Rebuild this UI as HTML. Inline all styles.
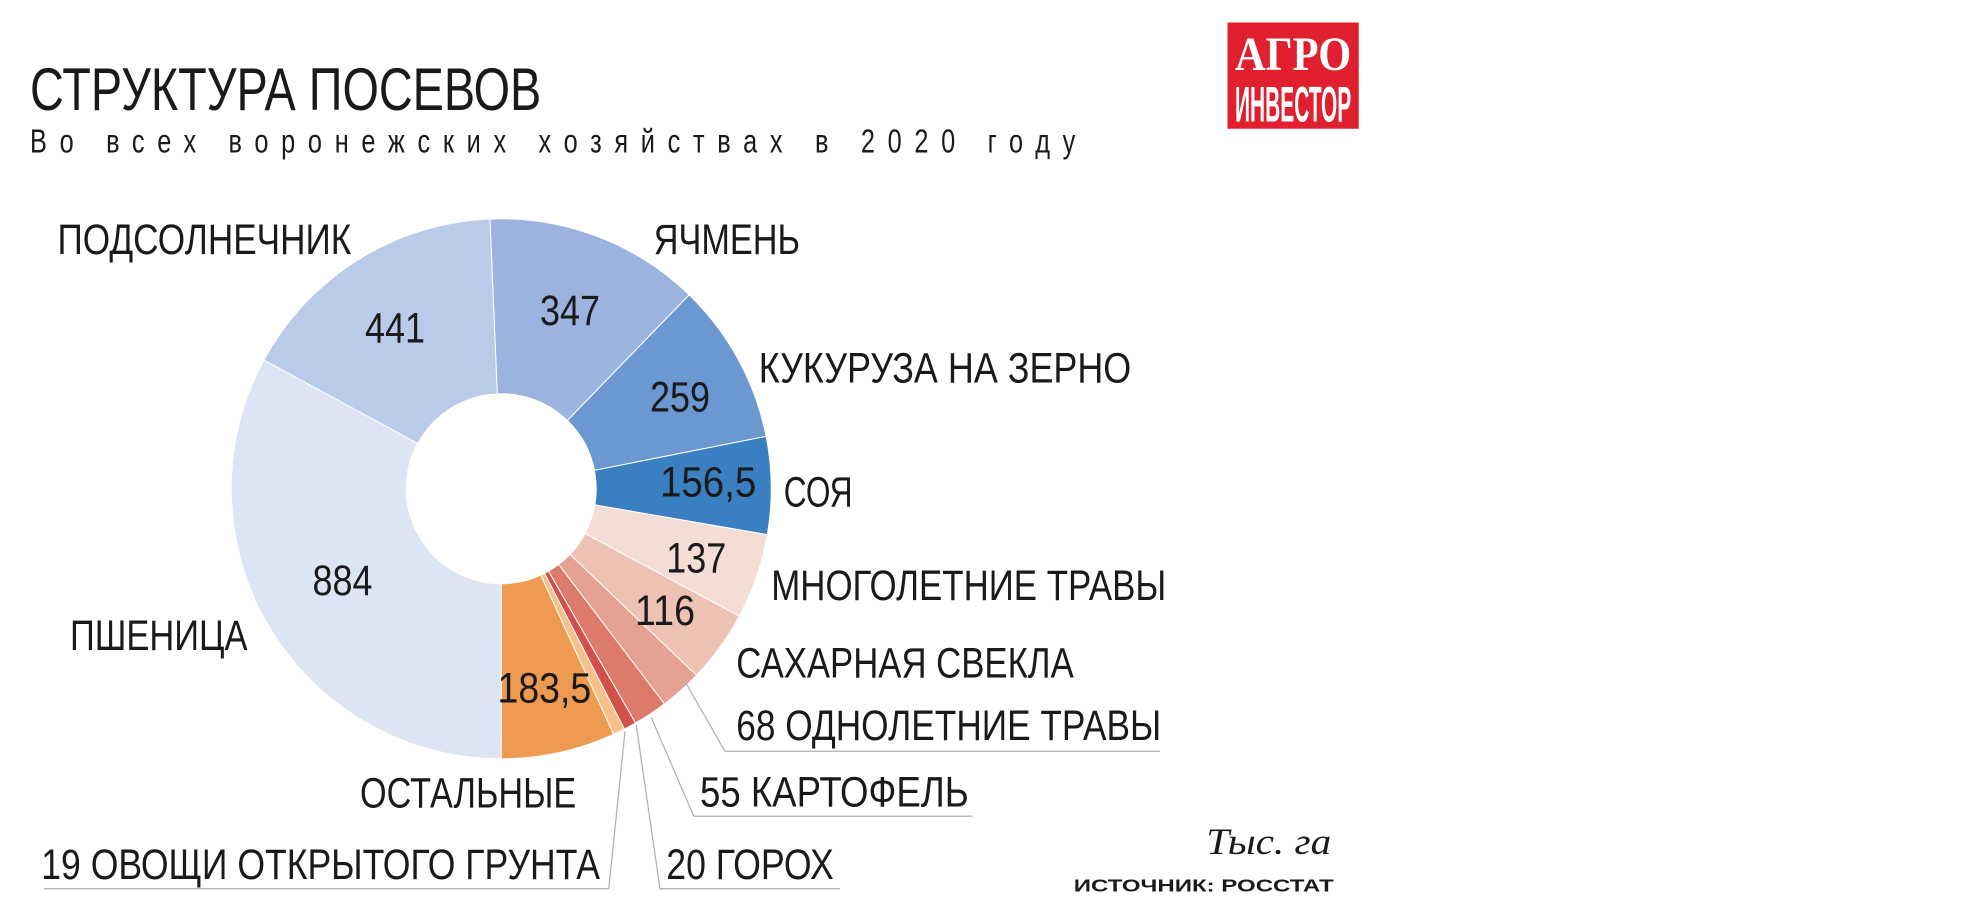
<!DOCTYPE html>
<html><head><meta charset="utf-8"><style>
html,body{margin:0;padding:0;background:#fff;}
svg{display:block;}
text{font-family:"Liberation Sans","DejaVu Sans",sans-serif;fill:#1a1a1a;}
</style></head><body>
<svg id="s" width="1962" height="920" viewBox="0 0 1569.6 736" xmlns="http://www.w3.org/2000/svg">
<g id="pie"></g>
<g stroke="#b0b0b0" stroke-width="1" fill="none">
<polyline points="545,540 580,601 928,601"/>
<polyline points="521,574 555,653 778,653"/>
<polyline points="509,580 528,711 672,711"/>
<polyline points="500,585 487,711 35,711"/>
</g>
<text x="24" y="88" font-size="48" textLength="409" lengthAdjust="spacingAndGlyphs">СТРУКТУРА ПОСЕВОВ</text>
<text x="24" y="122" font-size="26" textLength="836" lengthAdjust="spacing" transform="translate(24 0) scale(1 1)" style="display:none">.</text>
<g transform="translate(24 122) scale(0.75 1)"><text x="0" y="0" font-size="27" textLength="1115" lengthAdjust="spacing">Во всех воронежских хозяйствах в 2020 году</text></g>
<g font-size="34">
<text x="46" y="203" textLength="235" lengthAdjust="spacingAndGlyphs">ПОДСОЛНЕЧНИК</text>
<text x="523" y="203" textLength="117" lengthAdjust="spacingAndGlyphs">ЯЧМЕНЬ</text>
<text x="607" y="306" textLength="298" lengthAdjust="spacingAndGlyphs">КУКУРУЗА НА ЗЕРНО</text>
<text x="627" y="405" textLength="55" lengthAdjust="spacingAndGlyphs">СОЯ</text>
<text x="617" y="480" textLength="316" lengthAdjust="spacingAndGlyphs">МНОГОЛЕТНИЕ ТРАВЫ</text>
<text x="589" y="542" textLength="270" lengthAdjust="spacingAndGlyphs">САХАРНАЯ СВЕКЛА</text>
<text x="589" y="592" textLength="340" lengthAdjust="spacingAndGlyphs">68 ОДНОЛЕТНИЕ ТРАВЫ</text>
<text x="560" y="645" textLength="215" lengthAdjust="spacingAndGlyphs">55 КАРТОФЕЛЬ</text>
<text x="288" y="646" textLength="173" lengthAdjust="spacingAndGlyphs">ОСТАЛЬНЫЕ</text>
<text x="33" y="703" textLength="447" lengthAdjust="spacingAndGlyphs">19 ОВОЩИ ОТКРЫТОГО ГРУНТА</text>
<text x="533" y="703" textLength="134" lengthAdjust="spacingAndGlyphs">20 ГОРОХ</text>
<text x="56" y="520" textLength="142" lengthAdjust="spacingAndGlyphs">ПШЕНИЦА</text>
<text x="292" y="274" textLength="48" lengthAdjust="spacingAndGlyphs">441</text>
<text x="432" y="260" textLength="48" lengthAdjust="spacingAndGlyphs">347</text>
<text x="520" y="329" textLength="48" lengthAdjust="spacingAndGlyphs">259</text>
<text x="528" y="397" textLength="77" lengthAdjust="spacingAndGlyphs">156,5</text>
<text x="533" y="458" textLength="48" lengthAdjust="spacingAndGlyphs">137</text>
<text x="508" y="500" textLength="48" lengthAdjust="spacingAndGlyphs">116</text>
<text x="250" y="476" textLength="48" lengthAdjust="spacingAndGlyphs">884</text>
<text x="398" y="562" textLength="75" lengthAdjust="spacingAndGlyphs">183,5</text>
</g>
<text x="965" y="683" font-size="30" font-style="italic" style="font-family:'Liberation Serif',serif" textLength="100" lengthAdjust="spacingAndGlyphs">Тыс. га</text>
<text x="859" y="713" font-size="14" font-weight="bold" textLength="208" lengthAdjust="spacingAndGlyphs">ИСТОЧНИК: РОССТАТ</text>
<rect x="982" y="18" width="105" height="85" fill="#e0202e"/>
<text x="988" y="56" font-size="38" font-weight="bold" style="font-family:'Liberation Serif',serif;fill:#fff" textLength="93" lengthAdjust="spacingAndGlyphs">АГРО</text>
<text x="988" y="97" font-size="40" font-weight="bold" style="fill:#fff" textLength="93" lengthAdjust="spacingAndGlyphs">ИНВЕСТОР</text>
</svg>
<script>
var data=[[347,"#9bb3de"],[259,"#6b98d0"],[156.5,"#3a7fc1"],[137,"#f3ddd5"],[116,"#edc2b5"],[68,"#e5a191"],[55,"#dc7b6c"],[20,"#d1504a"],[19,"#f5c08a"],[183.5,"#ee9a50"],[884,"#dde4f4"],[441,"#b9cbe8"]];
var tot=0;data.forEach(function(d){tot+=d[0];});
var cx=401,cy=391,R=216,r=76,a=-2.4*Math.PI/180,g=document.getElementById("pie"),h="";
function p(rad,ang){return (cx+rad*Math.sin(ang)).toFixed(2)+","+(cy-rad*Math.cos(ang)).toFixed(2);}
data.forEach(function(d){var b=a+d[0]/tot*2*Math.PI,l=(b-a)>Math.PI?1:0;
h+='<path fill="'+d[1]+'" stroke="#fff" stroke-width="0.8" d="M'+p(R,a)+' A'+R+','+R+' 0 '+l+' 1 '+p(R,b)+' L'+p(r,b)+' A'+r+','+r+' 0 '+l+' 0 '+p(r,a)+' Z"/>';a=b;});
g.innerHTML=h;
</script>
</body></html>
